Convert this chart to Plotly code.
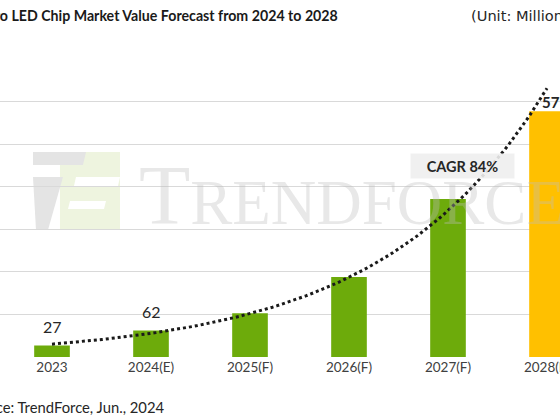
import numpy as np
import plotly.graph_objects as go

# data
years = ['2023', '2024(E)', '2025(F)', '2026(F)', '2027(F)', '2028(F)']
values = [27, 62, 103, 188, 371, 577]
labels = ['27', '62', '', '', '', '577']
cagr_text = 'CAGR 84%'

title = 'Micro LED Chip Market Value Forecast from 2024 to 2028'
unit = '(Unit: Million USD)'
source = 'Source: TrendForce, Jun., 2024'

GREEN = '#6dab0b'
YELLOW = '#ffc000'
W, H = 560, 420
TOP, BASE = 59, 357   # pixel rows of the 700 gridline and the baseline


def px(x, y):
    """pixel position -> paper coords"""
    return x / W, (BASE - y) / (BASE - TOP)


idx = np.arange(len(years))
colors = [GREEN] * (len(years) - 1) + [YELLOW]

# exponential trendline like excel does it
b, a = np.polyfit(idx, np.log(values), 1)
tx = np.linspace(0, len(years) - 1, 120)
ty = np.exp(a + b * tx)

fig = go.Figure()
fig.add_trace(go.Bar(x=idx, y=values, marker=dict(color=colors, line=dict(width=0)),
                     width=0.36, hoverinfo='skip'))
fig.add_trace(go.Scatter(x=tx, y=ty, mode='lines',
                         line=dict(color='#1a1a1a', width=3, dash='dot'),
                         hoverinfo='skip'))

ann = []
for i, lab in enumerate(labels):
    if not lab:
        continue
    last = i == len(labels) - 1
    ann.append(dict(x=i, y=values[i], xref='x', yref='y', text=('<b>%s</b>' % lab) if last else lab,
                    showarrow=False, xanchor='left' if last else 'center', yanchor='bottom',
                    xshift=-7 if last else 0, yshift=-2 if last else 8,
                    font=dict(size=16 if not last else 15, color='#262626')))

cx = (462 - 52) / 99.0
cy = (BASE - 166) / ((BASE - TOP) / 700.0)
ann.append(dict(x=cx, y=cy, xref='x', yref='y', text='<b>%s</b>' % cagr_text, showarrow=False,
                width=101, height=22, bgcolor='rgba(238,238,238,0.9)',
                font=dict(size=14.5, color='#262626')))

# title / unit / source, partly cut off by the frame like the reference
x0, y0 = px(340, 15)
ann.append(dict(x=x0, y=y0, xref='paper', yref='paper', text='<b>%s</b>' % title, showarrow=False,
                xanchor='right', yanchor='middle', font=dict(size=14.2, color='#1a1a1a')))
x0, y0 = px(469, 15)
ann.append(dict(x=x0, y=y0, xref='paper', yref='paper', text=unit, showarrow=False,
                xanchor='left', yanchor='middle',
                font=dict(family='DejaVu Sans', size=14.6, color='#262626')))
x0, y0 = px(167, 407)
ann.append(dict(x=x0, y=y0, xref='paper', yref='paper', text=source, showarrow=False,
                xanchor='right', yanchor='middle', font=dict(size=14.8, color='#262626')))

# watermark
x0, y0 = px(137, 196)
ann.append(dict(x=x0, y=y0, xref='paper', yref='paper',
                text='T<span style="font-size:63px">RENDFORCE</span>', showarrow=False,
                xanchor='left', yanchor='middle',
                font=dict(family='Liberation Serif', size=84, color='rgba(190,190,190,0.35)')))

shapes = []


def poly(pts, color):
    d = ''
    for k, (x, y) in enumerate(pts):
        u, v = px(x, y)
        d += ('M' if k == 0 else 'L') + ' %.4f %.4f ' % (u, v)
    shapes.append(dict(type='path', path=d + 'Z', xref='paper', yref='paper',
                       fillcolor=color, line=dict(width=0), layer='below'))


# logo
poly([(60, 152), (120, 152), (120, 230), (60, 230)], '#eef4df')
poly([(76, 177), (120, 177), (118, 186), (74, 186)], 'white')
poly([(70, 201), (106, 201), (104, 209), (68, 209)], 'white')
poly([(33, 152), (86, 152), (83, 165), (33, 165)], '#e4e4e4')
poly([(33, 177), (63, 177), (48, 230), (36, 230)], '#e4e4e4')

fig.update_layout(
    width=W, height=H,
    margin=dict(l=0, r=0, t=TOP, b=H - BASE, autoexpand=False),
    plot_bgcolor='white', paper_bgcolor='white',
    showlegend=False,
    annotations=ann, shapes=shapes,
    font=dict(family='Lato, Noto Sans, sans-serif', color='#333333'),
    xaxis=dict(range=[-52 / 99.0, (W - 52) / 99.0], tickmode='array', tickvals=idx, ticktext=years,
               showgrid=False, zeroline=False, showline=False, ticks='',
               ticklabeloverflow='allow', automargin=False,
               tickfont=dict(size=13.5, color='#404040')),
    yaxis=dict(range=[0, 700], dtick=100, showgrid=True, gridcolor='#d9d9d9', gridwidth=1.2,
               showticklabels=False, zeroline=False, showline=False, automargin=False),
)

# drop the default page margin so the figure sits at the window corner
fig.write_html('out.html', config={'displayModeBar': False},
               post_script="document.body.style.margin='0';document.body.style.overflow='hidden';")
